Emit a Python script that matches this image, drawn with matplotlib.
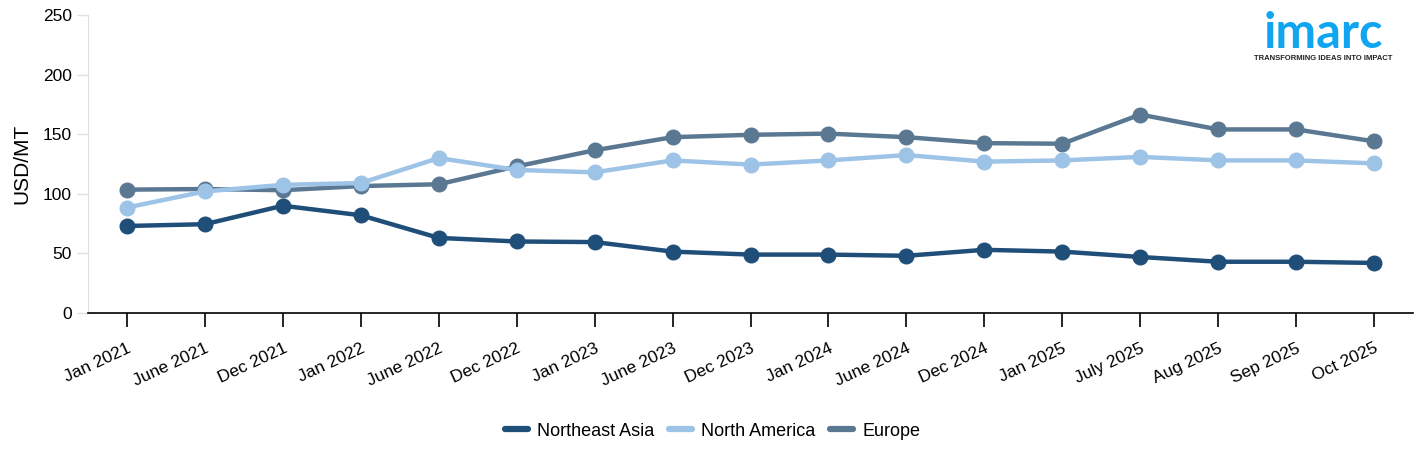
import matplotlib
matplotlib.use("Agg")
import matplotlib.pyplot as plt

plt.rcParams['font.family'] = ['Liberation Sans', 'DejaVu Sans']

categories = ["Jan 2021", "June 2021", "Dec 2021", "Jan 2022", "June 2022", "Dec 2022",
              "Jan 2023", "June 2023", "Dec 2023", "Jan 2024", "June 2024", "Dec 2024",
              "Jan 2025", "July 2025", "Aug 2025", "Sep 2025", "Oct 2025"]
northeast_asia = [73, 74.5, 90, 82, 63, 60, 59.5, 51.5, 49, 49, 48, 53, 51.5, 47, 43, 43, 42]
north_america = [88.5, 102, 107.5, 109, 130, 120, 118, 128, 124.5, 128, 132.5, 127, 128, 131, 128, 128, 125.5]
europe = [103.5, 104, 103, 106.5, 108, 123, 136.5, 147.5, 149.5, 150.5, 147.5, 142.5, 142, 166.5, 154, 154, 144]
yticks = [0, 50, 100, 150, 200, 250]

series = [("Northeast Asia", northeast_asia, "#1f4e79", 3),
          ("North America", north_america, "#9dc3e6", 2),
          ("Europe", europe, "#5b7893", 1)]

fig = plt.figure(figsize=(14.25, 4.55), dpi=100)
ax = fig.add_axes([88/1425, 1-313/455, (1413-88)/1425, (313-15)/455])

x = list(range(len(categories)))
for name, vals, col, z in series:
    ax.plot(x, vals, color=col, lw=3.2, marker='o', markersize=10.5, label=name,
            solid_capstyle='round', zorder=z)

ax.set_xlim(-0.5, len(categories) - 0.5)
ax.set_ylim(0, 250)
ax.set_yticks(yticks)
ax.set_yticklabels([str(v) for v in yticks], fontsize=12.5)
ax.set_xticks(x)
ax.set_xticklabels(categories, rotation=25, ha='right', rotation_mode='anchor', fontsize=12.5)

for s in ['top', 'right']:
    ax.spines[s].set_visible(False)
ax.spines['left'].set_color('#e0e0e0')
ax.spines['bottom'].set_color('#000000')
ax.spines['bottom'].set_linewidth(1.2)
ax.tick_params(axis='y', colors='#e0e0e0', labelcolor='#000000', length=8, width=1)
ax.tick_params(axis='x', length=10, width=1.2, pad=10, color='#000000')
ax.set_ylabel("USD/MT", fontsize=15, labelpad=8)

leg = fig.legend(loc='center', bbox_to_anchor=(0.5, 1-431/455), ncol=3, frameon=False,
                 fontsize=13, handlelength=1.3, columnspacing=0.8, handletextpad=0.5)
for h in leg.legend_handles:
    h.set_marker('')
    h.set_linewidth(4.5)

fig.text(1323/1425, 1-34/455, "imarc", color="#0fa5f0", fontsize=35, fontweight='bold',
         family=['Lato', 'DejaVu Sans'], ha='center', va='center')
fig.text(1323/1425, 1-58/455, "TRANSFORMING IDEAS INTO IMPACT", color="#222222", fontsize=5.5,
         fontweight='bold', ha='center', va='center')

fig.savefig("out.png", dpi=100)
